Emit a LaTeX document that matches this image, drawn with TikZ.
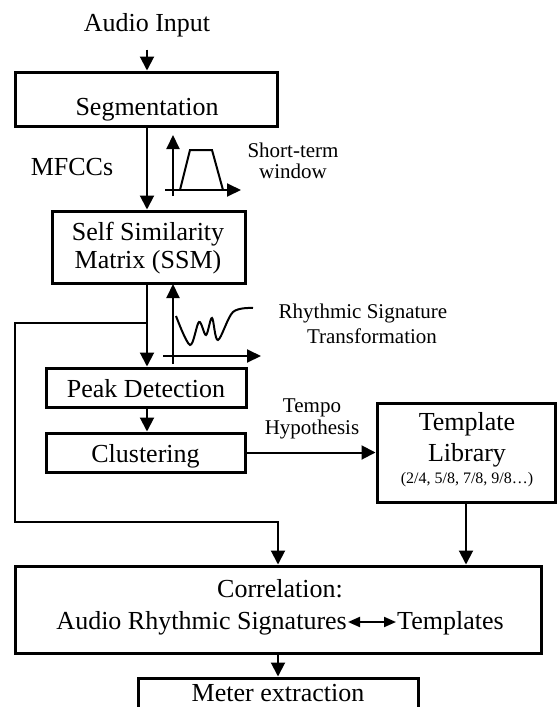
\documentclass[tikz,border=0pt]{standalone}
\usepackage{fontspec}
\setmainfont{Liberation Serif}
\usetikzlibrary{arrows.meta}
\begin{document}
\begin{tikzpicture}[x=1pt,y=-1pt,
  box/.style={draw, line width=3pt, inner sep=0pt},
  lbl/.style={inner sep=0pt, anchor=base, font=\fontsize{26}{30}\selectfont},
  sml/.style={inner sep=0pt, anchor=base, font=\fontsize{21}{24}\selectfont},
  tny/.style={inner sep=0pt, anchor=base, font=\fontsize{16}{18}\selectfont},
  conn/.style={line width=2pt},
  arr/.style={conn, -{Triangle[length=14pt,width=14pt]}},
  axisarr/.style={line width=2pt, -{Triangle[length=14pt,width=13pt]}},
]
\path[use as bounding box] (0,0) rectangle (558,707);
\clip (0,0) rectangle (558,707);

% boxes
\node[box, minimum width=262pt, minimum height=54pt] (seg) at (146,99) {};
\node[box, minimum width=193pt, minimum height=72pt] (ssm) at (148.5,247) {};
\node[box, minimum width=200pt, minimum height=39pt] (peak) at (146,387.5) {};
\node[box, minimum width=199pt, minimum height=39pt] (clus) at (145.5,452.5) {};
\node[box, minimum width=178pt, minimum height=99pt] (tl) at (466,452.5) {};
\node[box, minimum width=526pt, minimum height=87pt] (corr) at (278,609.5) {};
\node[box, minimum width=280pt, minimum height=80pt] (meter) at (278,718) {};

% texts
\node[lbl] (ai) at (147,31) {Audio Input};
\node[lbl] (segt) at (147,115) {Segmentation};
\node[lbl] (mfcc) at (72,175) {MFCCs};
\node[sml] (stw1) at (293,157) {Short-term};
\node[sml] (stw2) at (293,178) {window};
\node[lbl] (ssmt1) at (148,240) {Self Similarity};
\node[lbl] (ssmt2) at (148,268) {Matrix (SSM)};
\node[sml] (rst1) at (363,318) {Rhythmic Signature};
\node[sml] (rst2) at (372,343) {Transformation};
\node[lbl] (peakt) at (146,397) {Peak Detection};
\node[lbl] (clust) at (145.5,462) {Clustering};
\node[sml] (th1) at (312,412) {Tempo};
\node[sml] (th2) at (312,434) {Hypothesis};
\node[lbl] (tlt1) at (467,430) {Template};
\node[lbl] (tlt2) at (467,461) {Library};
\node[tny] (tlt3) at (467,483) {(2/4, 5/8, 7/8, 9/8\ldots)};
\node[lbl] (corrt) at (280,597) {Correlation:};
\node[lbl, anchor=base east] (ars) at (347,629) {Audio Rhythmic Signatures};
\node[lbl, anchor=base west] (tpl) at (397,629) {Templates};
\node[lbl] (metert) at (278,701) {Meter extraction};

% connectors
\draw[arr, shorten <=13pt] (ai.south) -- (ai.south |- seg.north);
\draw[arr] (ai.south |- seg.south) -- (ai.south |- ssm.north);
\draw[arr] (ai.south |- ssm.south) -- (ai.south |- peak.north);
\coordinate (fbs) at (147,323);
\coordinate (fba) at (15,323);
\coordinate (fbb) at (15,522);
\coordinate (fbc) at (278,522);
\draw[arr] (fbs) -- (fba) -- (fbb) -- (fbc) -- (corr.north);
\draw[arr] (ai.south |- peak.south) -- (ai.south |- clus.north);
\draw[arr] (clus.east) -- (tl.west);
\draw[arr] (tl.south) -- (tl.south |- corr.north);
\draw[arr] (corr.south) -- (meter.north);
\draw[conn, {Triangle[length=12pt,width=10pt]}-{Triangle[length=12pt,width=10pt]}]
  ([xshift=1pt]ars.east |- 0,622) -- ([xshift=-1pt]tpl.west |- 0,622);

% short-term window icon
\coordinate (w0) at (173,196);
\coordinate (w1) at (173,135);
\coordinate (w2) at (165,190);
\coordinate (w3) at (241,190);
\draw[axisarr] (w0) -- (w1);
\draw[axisarr] (w2) -- (w3);
\draw[line width=2pt, line join=miter] (180,190) -- (190,150) -- (212,150) -- (223,190);

% rhythmic signature icon
\coordinate (r0) at (173,364);
\coordinate (r1) at (173,284);
\coordinate (r2) at (163,356);
\coordinate (r3) at (261,356);
\draw[axisarr] (r0) -- (r1);
\draw[axisarr] (r2) -- (r3);
\draw[line width=2pt] plot[smooth, tension=0.55] coordinates
  {(176,316) (190,345) (199,322) (206,335) (212,318) (218,340) (233,312) (253,308)};
\end{tikzpicture}
\end{document}
